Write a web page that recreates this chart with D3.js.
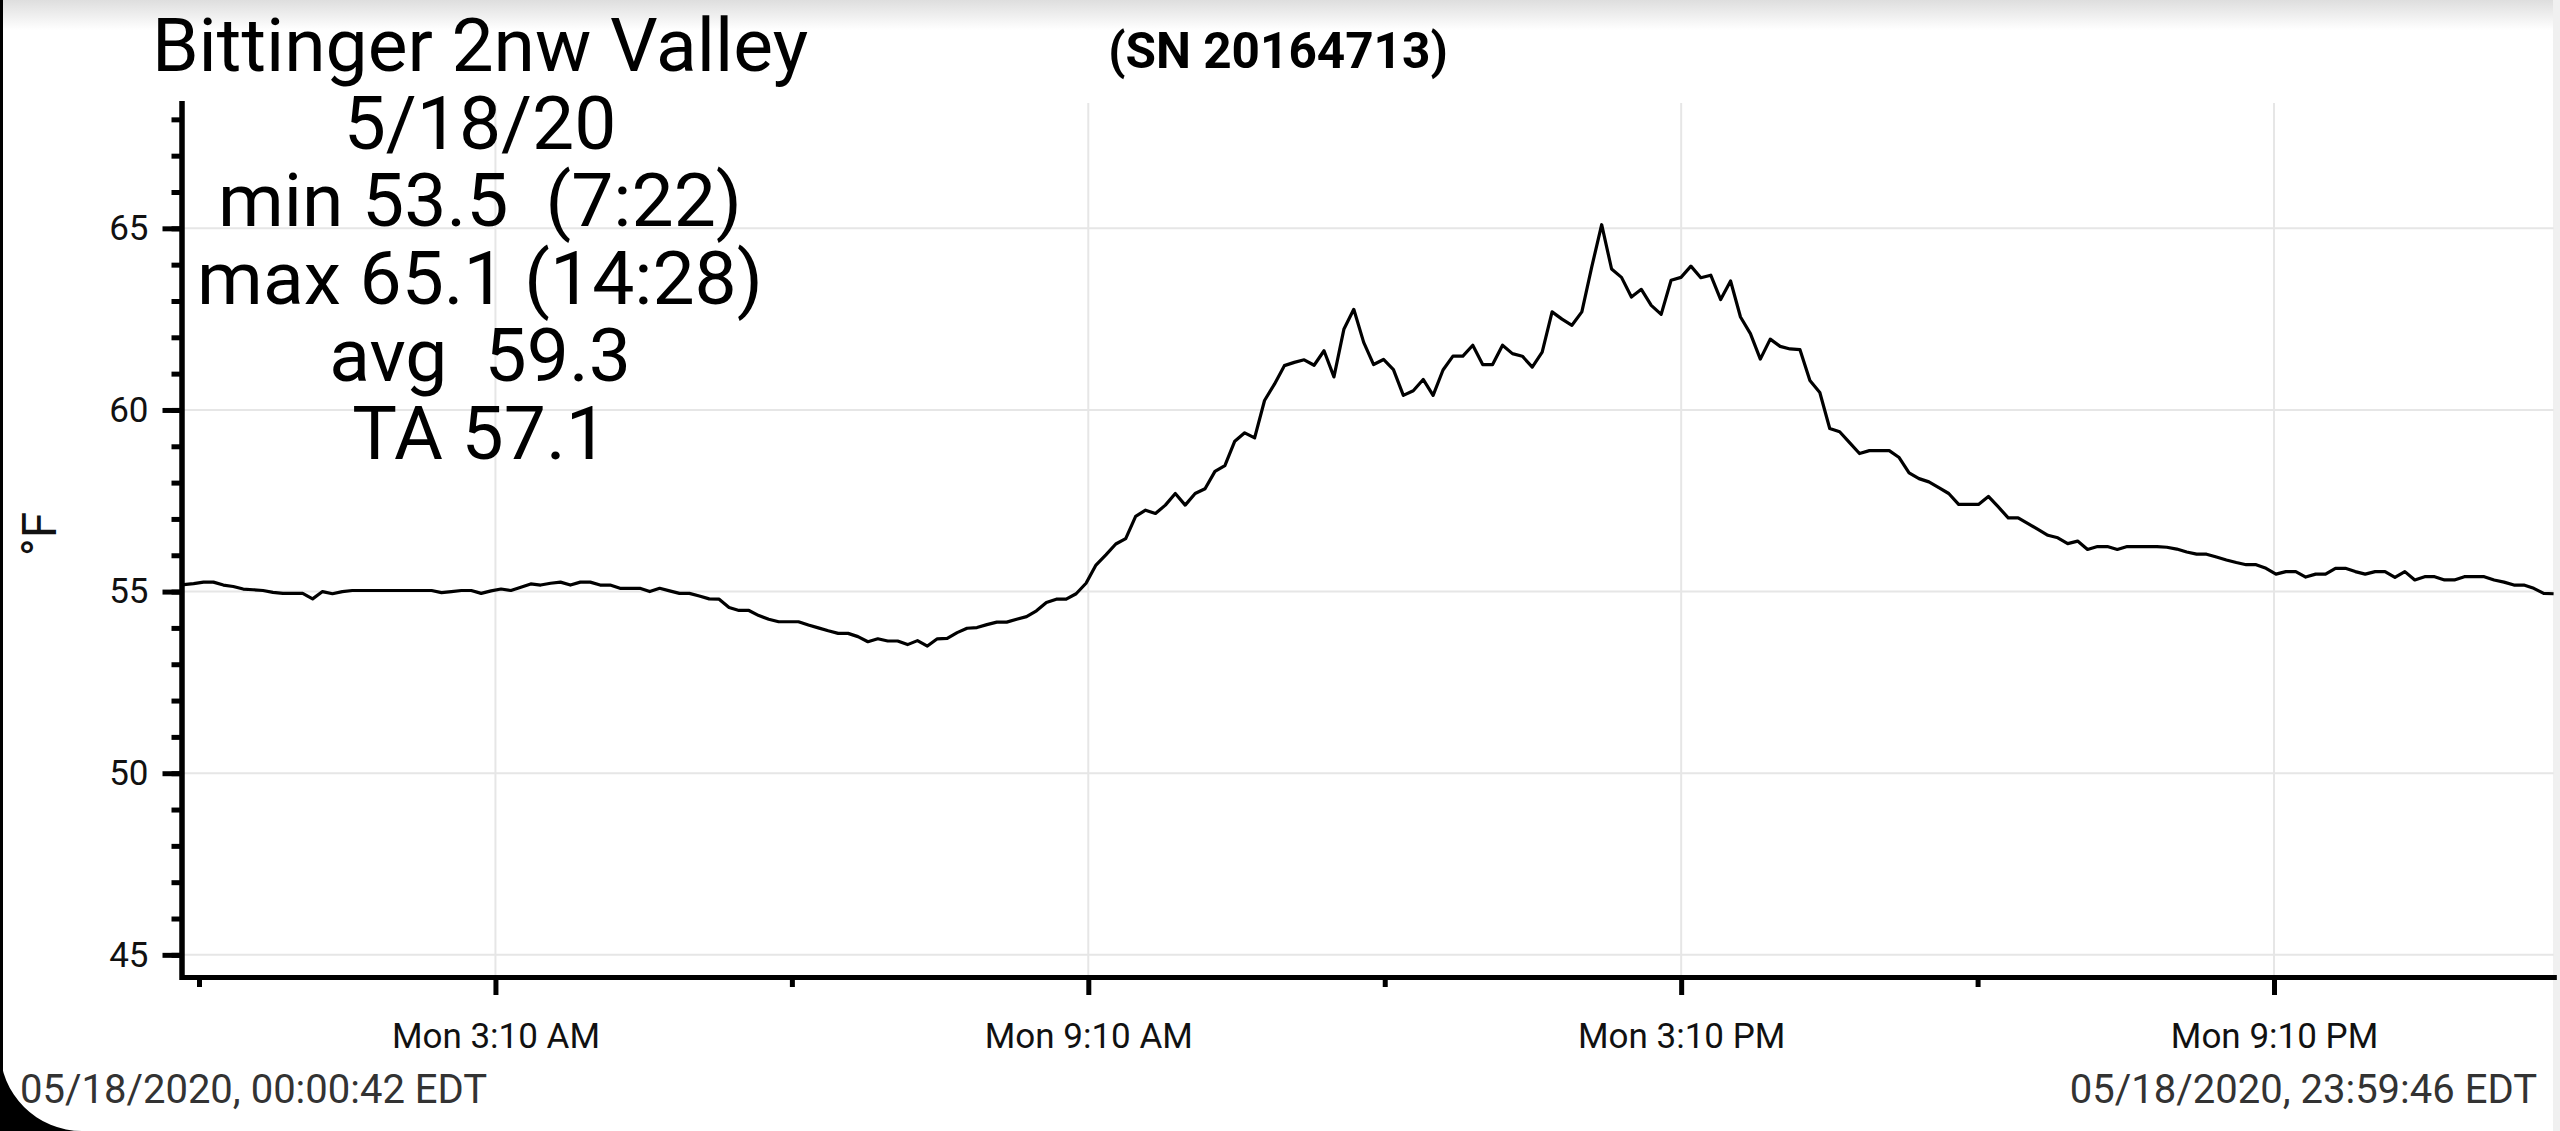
<!DOCTYPE html>
<html>
<head>
<meta charset="utf-8">
<script src="https://cdn.jsdelivr.net/npm/d3@7"></script>
<style>
  html, body { margin: 0; padding: 0; background: #fff; }
  svg { display: block; font-family: Roboto, "Noto Sans", sans-serif; }
  .info { white-space: pre; }
</style>
</head>
<body>
<svg id="chart" width="2560" height="1131"></svg>
<script>
// logger readings, 5/18/2020 (°F), roughly every 6 minutes
const sampleStart = new Date(2020, 4, 18, 0, 0, 42);
const sampleEnd = new Date(2020, 4, 18, 23, 59, 46);
const temps = [
  55.19, 55.22, 55.26, 55.26, 55.18, 55.14, 55.07, 55.05, 55.03, 54.98,
  54.95, 54.95, 54.95, 54.80, 55.00, 54.94, 55.00, 55.03, 55.03, 55.03,
  55.03, 55.03, 55.03, 55.03, 55.03, 55.03, 54.97, 55.00, 55.03, 55.03,
  54.95, 55.02, 55.07, 55.03, 55.12, 55.21, 55.18, 55.23, 55.26, 55.18,
  55.26, 55.26, 55.18, 55.18, 55.09, 55.09, 55.09, 55.00, 55.09, 55.02,
  54.95, 54.95, 54.88, 54.80, 54.79, 54.56, 54.48, 54.48, 54.34, 54.24,
  54.17, 54.17, 54.17, 54.08, 54.00, 53.92, 53.85, 53.85, 53.76, 53.62,
  53.70, 53.64, 53.64, 53.54, 53.65, 53.50, 53.70, 53.71, 53.87, 53.99,
  54.01, 54.09, 54.16, 54.16, 54.24, 54.31, 54.47, 54.70, 54.79, 54.79,
  54.94, 55.23, 55.73, 56.01, 56.31, 56.46, 57.07, 57.24, 57.15, 57.38,
  57.70, 57.38, 57.70, 57.83, 58.31, 58.47, 59.14, 59.37, 59.23, 60.26,
  60.71, 61.22, 61.31, 61.38, 61.23, 61.63, 60.91, 62.22, 62.77, 61.86,
  61.25, 61.39, 61.11, 60.40, 60.53, 60.84, 60.40, 61.10, 61.48, 61.48,
  61.78, 61.25, 61.25, 61.78, 61.55, 61.48, 61.18, 61.59, 62.70, 62.50,
  62.33, 62.70, 63.94, 65.10, 63.88, 63.65, 63.11, 63.32, 62.88, 62.63,
  63.57, 63.65, 63.96, 63.64, 63.71, 63.04, 63.55, 62.56, 62.10, 61.40,
  61.95, 61.75, 61.68, 61.66, 60.81, 60.48, 59.49, 59.40, 59.10, 58.80,
  58.88, 58.88, 58.88, 58.69, 58.27, 58.11, 58.02, 57.86, 57.70, 57.40,
  57.40, 57.40, 57.62, 57.33, 57.03, 57.03, 56.87, 56.71, 56.55, 56.48,
  56.32, 56.39, 56.16, 56.24, 56.24, 56.16, 56.24, 56.24, 56.24, 56.24,
  56.22, 56.17, 56.09, 56.03, 56.03, 55.95, 55.87, 55.80, 55.74, 55.74,
  55.64, 55.48, 55.55, 55.55, 55.40, 55.48, 55.48, 55.64, 55.64, 55.55,
  55.48, 55.55, 55.55, 55.39, 55.55, 55.32, 55.41, 55.41, 55.32, 55.32,
  55.41, 55.41, 55.41, 55.32, 55.26, 55.18, 55.18, 55.09, 54.95, 54.94
];

// axis ticks
const majorTimes = [[3, 10], [9, 10], [15, 10], [21, 10]];
const majorLabels = ["Mon 3:10 AM", "Mon 9:10 AM", "Mon 3:10 PM", "Mon 9:10 PM"];
const minorTimes = [[0, 10], [6, 10], [12, 10], [18, 10]];
const yMajor = [45, 50, 55, 60, 65];
const yMinor = d3.range(45, 69, 1);
const yDomain = [44.39, 68.45];

// texts
const titleLines = ["Bittinger 2nw Valley", "5/18/20", "min 53.5  (7:22)",
                    "max 65.1 (14:28)", "avg  59.3", "TA 57.1"];
const serialText = "(SN 20164713)";
const unitLabel = "°F";
const startLabel = "05/18/2020, 00:00:42 EDT";
const endLabel = "05/18/2020, 23:59:46 EDT";

const W = 2560, H = 1131;
const svg = d3.select("#chart");

// screenshot frame: top shade, right strip
const defs = svg.append("defs");
const grad = defs.append("linearGradient").attr("id", "topShade")
  .attr("x1", 0).attr("y1", 0).attr("x2", 0).attr("y2", 1);
grad.append("stop").attr("offset", "0%").attr("stop-color", "#dedede");
grad.append("stop").attr("offset", "100%").attr("stop-color", "#ffffff");
svg.append("rect").attr("x", 0).attr("y", 0).attr("width", W).attr("height", 30)
  .attr("fill", "url(#topShade)");
svg.append("rect").attr("x", W - 7).attr("y", 0).attr("width", 7).attr("height", H)
  .attr("fill", "#f0f0f0");

const x = d3.scaleTime().domain([sampleStart, sampleEnd]).range([183.7, 2553.6]);
const y = d3.scaleLinear().domain(yDomain).range([977, 103]);
const axisX = 181.5, axisY = 977;

const step = (sampleEnd - sampleStart) / (temps.length - 1);
const points = temps.map((t, i) => ({ time: new Date(+sampleStart + i * step), temp: t }));
const atTime = hm => new Date(2020, 4, 18, hm[0], hm[1], 0);

// grid
const grid = svg.append("g").attr("stroke", "#e6e6e6").attr("stroke-width", 2);
grid.selectAll(".hgrid").data(yMajor).enter().append("line")
  .attr("x1", axisX).attr("x2", x.range()[1])
  .attr("y1", d => y(d)).attr("y2", d => y(d));
grid.selectAll(".vgrid").data(majorTimes).enter().append("line")
  .attr("x1", d => x(atTime(d))).attr("x2", d => x(atTime(d)))
  .attr("y1", y(yDomain[1])).attr("y2", axisY);

// temperature line
const line = d3.line().x(d => x(d.time)).y(d => y(d.temp));
svg.append("path").datum(points)
  .attr("fill", "none").attr("stroke", "#000").attr("stroke-width", 3.2)
  .attr("stroke-linejoin", "round")
  .attr("d", line);

// y axis
const yMinorAxis = svg.append("g").attr("transform", `translate(${axisX},0)`)
  .call(d3.axisLeft(y).tickValues(yMinor).tickSize(10).tickSizeOuter(0).tickFormat(""));
const yAxis = svg.append("g").attr("transform", `translate(${axisX},0)`)
  .call(d3.axisLeft(y).tickValues(yMajor).tickSize(19).tickSizeOuter(0).tickPadding(14));
[yMinorAxis, yAxis].forEach(g => {
  g.selectAll(".tick line").attr("stroke", "#000").attr("stroke-width", 5);
  g.select(".domain").attr("stroke", "#000").attr("stroke-width", 5)
    .attr("stroke-linecap", "square");
});
yAxis.selectAll(".tick text").attr("font-size", 35).attr("fill", "#111")
  .attr("font-family", "Roboto");

// x axis
const xMinorAxis = svg.append("g").attr("transform", `translate(0,${axisY})`)
  .call(d3.axisBottom(x).tickValues(minorTimes.map(atTime)).tickSize(10)
    .tickSizeOuter(0).tickFormat(""));
const xAxis = svg.append("g").attr("transform", `translate(0,${axisY})`)
  .call(d3.axisBottom(x).tickValues(majorTimes.map(atTime)).tickSize(18)
    .tickSizeOuter(0).tickPadding(28).tickFormat((d, i) => majorLabels[i]));
[xMinorAxis, xAxis].forEach(g => {
  g.selectAll(".tick line").attr("stroke", "#000").attr("stroke-width", 5);
  g.select(".domain").attr("stroke", "#000").attr("stroke-width", 5)
    .attr("stroke-linecap", "square");
});
xAxis.selectAll(".tick text").attr("font-size", 35).attr("fill", "#111")
  .attr("font-family", "Roboto");

// unit label
svg.append("text")
  .attr("transform", "translate(56,534) rotate(-90)")
  .attr("text-anchor", "middle").attr("font-size", 48).attr("fill", "#111")
  .text(unitLabel);

// station info block
svg.append("g").selectAll("text").data(titleLines).enter().append("text")
  .attr("class", "info").attr("xml:space", "preserve")
  .attr("x", 480).attr("y", (d, i) => 71 + i * 77.6)
  .attr("text-anchor", "middle").attr("font-size", 75).attr("fill", "#000")
  .text(d => d);

svg.append("text").attr("x", 1278).attr("y", 68)
  .attr("text-anchor", "middle").attr("font-size", 49.5).attr("font-weight", "bold")
  .attr("fill", "#000").text(serialText);

// period stamps
svg.append("text").attr("x", 20).attr("y", 1103)
  .attr("font-size", 40).attr("fill", "#333").text(startLabel);
svg.append("text").attr("x", 2537).attr("y", 1103).attr("text-anchor", "end")
  .attr("font-size", 40).attr("fill", "#333").text(endLabel);

// device edge over everything
svg.append("rect").attr("x", 0).attr("y", 0).attr("width", 3).attr("height", H).attr("fill", "#000");
svg.append("path").attr("d", `M0,${H - 82} A82,82 0 0 0 82,${H} L0,${H} Z`).attr("fill", "#000");
</script>
</body>
</html>
